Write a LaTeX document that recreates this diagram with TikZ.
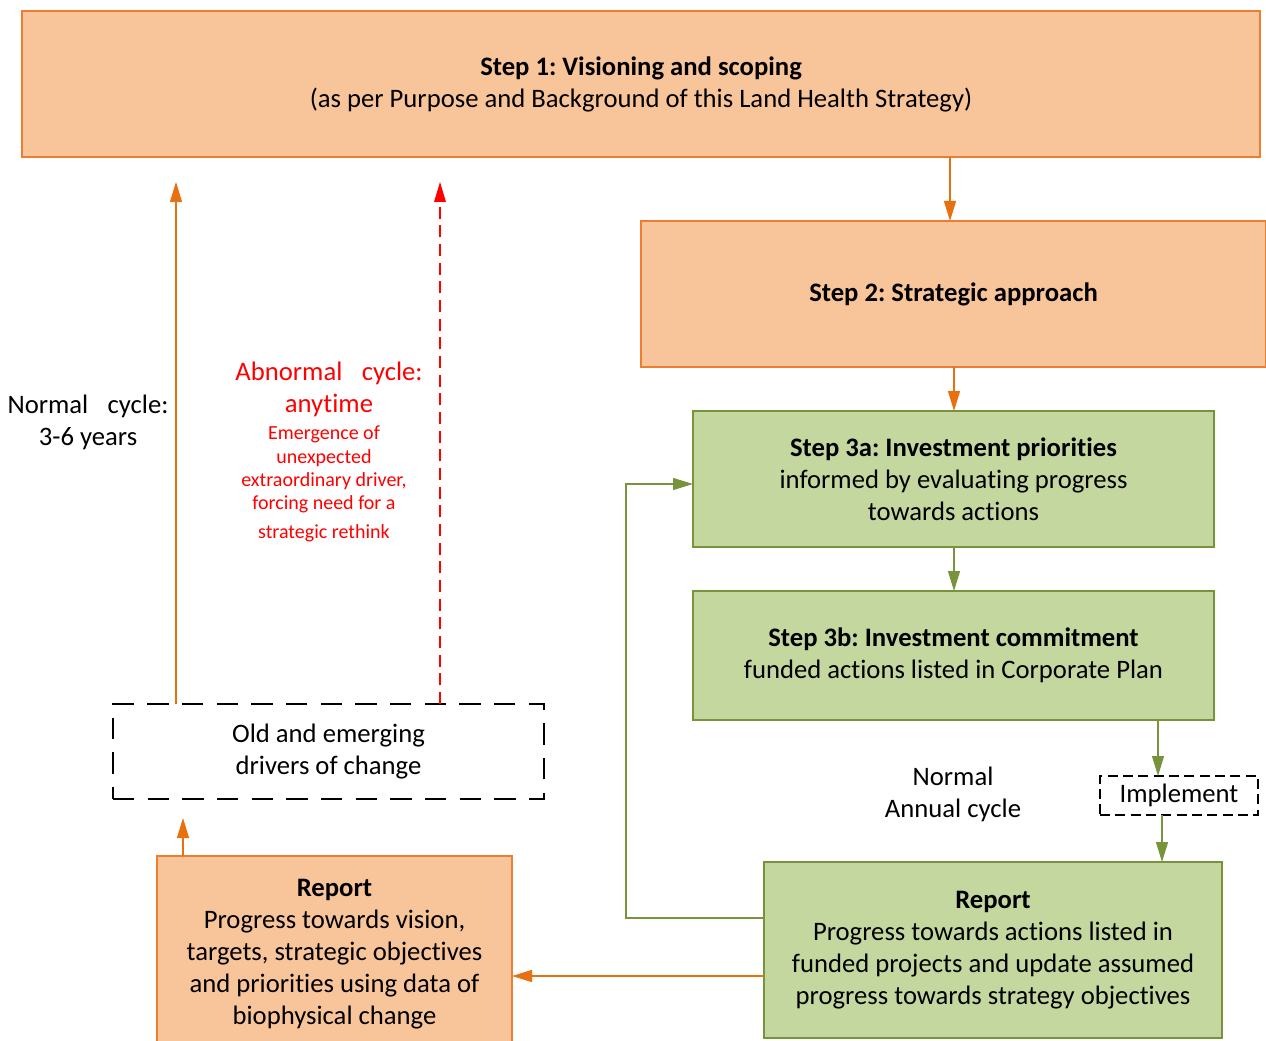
\documentclass[tikz,border=0pt]{standalone}
\usepackage{fontspec}
\setmainfont{Carlito}[Ligatures={NoCommon,NoRequired,NoContextual}]
\usetikzlibrary{arrows.meta}
\frenchspacing
\definecolor{peach}{HTML}{F8C49A}
\definecolor{oborder}{HTML}{ED7D31}
\definecolor{oarrow}{HTML}{E8700F}
\definecolor{gfill}{HTML}{C4D79F}
\definecolor{gborder}{HTML}{77933C}
\definecolor{rred}{HTML}{FF0000}
\newcommand{\mainfs}{\fontsize{20}{24}\selectfont}
\newcommand{\smallfs}{\fontsize{15}{17.6}\selectfont}
\tikzset{
  obox/.style={draw=oborder, fill=peach, line width=1.3pt, inner sep=0pt, outer sep=0pt, align=center, font=\mainfs},
  gbox/.style={draw=gborder, fill=gfill, line width=1.3pt, inner sep=0pt, outer sep=0pt, align=center, font=\mainfs},
  dbox/.style={draw=black, line width=2pt, dash pattern=on 16pt off 10pt, inner sep=0pt, outer sep=0pt, align=center, font=\mainfs},
  ibox/.style={draw=black, line width=1.8pt, dash pattern=on 7.5pt off 4pt, inner sep=0pt, outer sep=0pt, align=center, font=\mainfs},
  tip/.style={-{Triangle[length=15pt,width=9pt]}},
  oarr/.style={tip, draw=oarrow, line width=1pt},
  garr/.style={tip, draw=gborder, line width=1pt},
  rarr/.style={-{Triangle[length=15pt,width=9pt,fill=rred,line width=0pt]}, draw=rred, line width=1.8pt, dash pattern=on 9pt off 5pt},
  lbl/.style={align=center, font=\mainfs, inner sep=0pt},
}
\begin{document}
\begin{tikzpicture}[x=0.75pt,y=-0.75pt]
\useasboundingbox (0,0) rectangle (1266,1041);
\begin{scope}
\clip (0,0) rectangle (1266,1041);
\node[obox, minimum width=928.5pt, minimum height=109.5pt] (s1) at (641,84)
  {\textbf{Step 1: Visioning and scoping}\\(as per Purpose and Background of this Land Health Strategy)};
\node[obox, minimum width=468.75pt, minimum height=109.5pt] (s2) at (953.5,294)
  {\textbf{Step 2: Strategic approach}};
\node[gbox, minimum width=390.75pt, minimum height=102pt] (s3a) at (953.5,479)
  {\textbf{Step 3a: Investment priorities}\\informed by evaluating progress\\towards actions};
\node[gbox, minimum width=390.75pt, minimum height=96.75pt] (s3b) at (953.5,655.5)
  {\textbf{Step 3b: Investment commitment}\\funded actions listed in Corporate Plan};
\node[ibox, minimum width=118.5pt, minimum height=29.25pt] (impl) at (1179,795.5) {Implement};
\node[gbox, minimum width=343.5pt, minimum height=132pt] (repR) at (993,950)
  {\textbf{Report}\\Progress towards actions listed in\\funded projects and update assumed\\progress towards strategy objectives};
\node[obox, minimum width=266.25pt, minimum height=147pt] (repL) at (334.5,954)
  {\textbf{Report}\\Progress towards vision,\\targets, strategic objectives\\and priorities using data of\\biophysical change};
\end{scope}
\node[dbox, minimum width=323.25pt, minimum height=71.25pt] (drv) at (328.5,751.5)
  {Old and emerging\\drivers of change};

\node[lbl] (ncyc) at (88,422) {Normal\hspace{0.5em} cycle:\\3-6 years};
\node[lbl, text=rred] (abn) at (329,389) {Abnormal\hspace{0.5em} cycle:\\anytime};
\node[lbl, text=rred, font=\smallfs] (abn2) at (324,484) {Emergence of\\unexpected\\extraordinary driver,\\forcing need for a\\[4pt]strategic rethink};
\node[lbl] (ann) at (953,794) {Normal\\Annual cycle};

\draw[oarr] (950,0 |- s1.south) -- (950,0 |- s2.north);
\draw[oarr] (954,0 |- s2.south) -- (954,0 |- s3a.north);
\draw[garr] (954,0 |- s3a.south) -- (954,0 |- s3b.north);
\draw[garr] (1158,0 |- s3b.south) -- (1158,0 |- impl.north);
\draw[garr] (1162,0 |- impl.south) -- (1162,0 |- repR.north);
\draw[garr] (repR.west |- 0,918) -- (626,918) -- (626,484) -- (s3a.west |- 0,484);
\draw[oarr] (repR.west |- 0,976) -- (repL.east |- 0,976);
\draw[oarr, shorten >=14.25pt] (183,0 |- repL.north) -- (183,0 |- drv.south);
\draw[oarr, shorten >=18.75pt] (176,0 |- drv.north) -- (176,0 |- s1.south);
\draw[rarr, shorten >=18.75pt] (440,0 |- drv.north) -- (440,0 |- s1.south);
\end{tikzpicture}
\end{document}
